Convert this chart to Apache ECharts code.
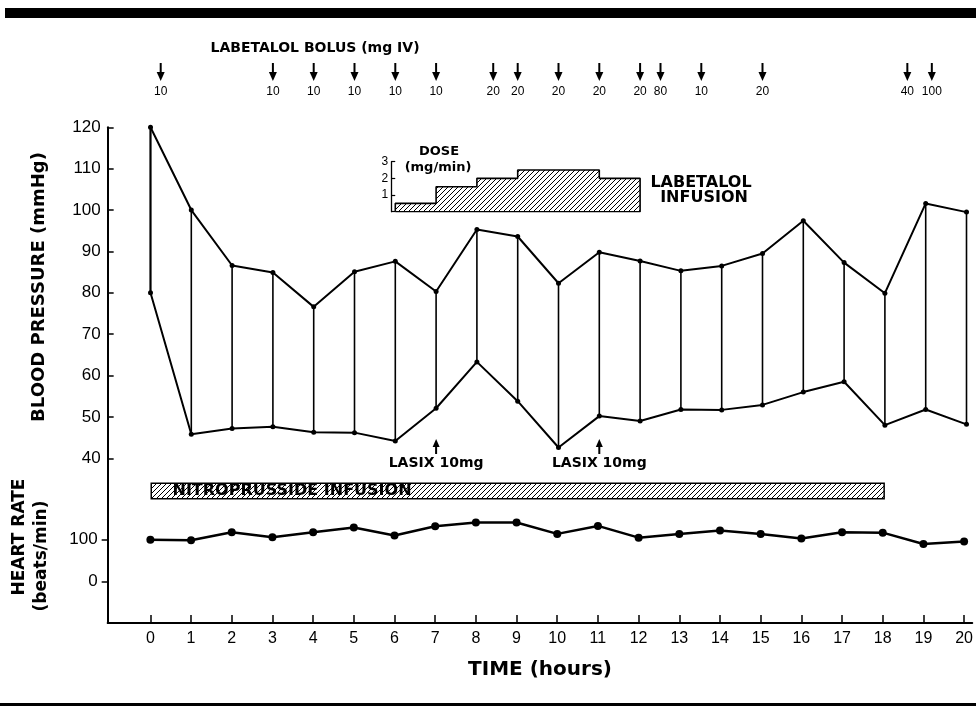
<!DOCTYPE html>
<html>
<head>
<meta charset="utf-8">
<script src="https://cdn.jsdelivr.net/npm/echarts@6/dist/echarts.min.js"></script>
<style>
html,body{margin:0;padding:0;background:#fff;}
#chart{width:976px;height:706px;}
</style>
</head>
<body>
<div id="chart"></div>
<script>
// ---------- DATA ----------
const hours = [0,1,2,3,4,5,6,7,8,9,10,11,12,13,14,15,16,17,18,19,20];
const bpSystolic  = [120,100,86.6,84.9,76.6,85.1,87.6,80.3,95.3,93.6,82.3,89.8,87.7,85.3,86.5,89.5,97.4,87.3,79.9,101.6,99.5];
const bpDiastolic = [80,45.8,47.2,47.6,46.3,46.2,44.2,52.1,63.3,53.8,42.6,50.2,49,51.8,51.7,52.9,56,58.5,48,51.8,48.2];
const heartRate   = [100,99,118,106,118,129,110,132,141,141,114,133,105,114,122,114,103,118,117,90,96];
const bpTicks = [40,50,60,70,80,90,100,110,120];
const hrTicks = [0,100];
const timeTicks = [0,1,2,3,4,5,6,7,8,9,10,11,12,13,14,15,16,17,18,19,20];

const bolusTimes = [0.25,3,4,5,6,7,8.4,9,10,11,12,12.5,13.5,15,18.55,19.15];
const bolusDoses = [10,10,10,10,10,10,20,20,20,20,20,80,10,20,40,100];

const doseTimes  = [6,7,8,9,11,12];
const doseValues = [0.5,1.5,2,2.5,2,2];
const doseTicks  = [0,1,2,3];
const doseLabels = [1,2,3];

const nitroStart = 0, nitroEnd = 18;
const lasixTimes = [7,11];
const lasixText = 'LASIX 10mg';
const nitroText = 'NITROPRUSSIDE INFUSION';

// ---------- helpers ----------
function hatchCanvas(){
  const s=5, c=document.createElement('canvas'); c.width=s; c.height=s;
  const g=c.getContext('2d');
  g.fillStyle='#fff'; g.fillRect(0,0,s,s);
  g.strokeStyle='#000'; g.lineWidth=1;
  g.beginPath();
  g.moveTo(0,s); g.lineTo(s,0);
  g.moveTo(-1,1); g.lineTo(1,-1);
  g.moveTo(s-1,s+1); g.lineTo(s+1,s-1);
  g.stroke();
  return c;
}
const hatch = {image: hatchCanvas(), repeat:'repeat'};

const X0 = 150.5, PX = 40.8;        // layout only
const XMIN = -1.05, XMAX = 20.2;
const gridLeft = X0 + XMIN*PX;
const gridWidth = (XMAX-XMIN)*PX;
const doseXMin = 5.9, doseXMax = 12.2;

const numFont = "'Liberation Sans', Arial, sans-serif";
const boldFont = "'DejaVu Sans', 'Liberation Sans', sans-serif";
const bf = (s)=> "bold " + s + "px 'DejaVu Sans', 'Liberation Sans', sans-serif";

const doseData = [[doseTimes[0],0]].concat(doseTimes.map((t,i)=>[t,doseValues[i]]))
  .concat([[doseTimes[doseTimes.length-1],0],[doseTimes[0],0]]);

const chart = echarts.init(document.getElementById('chart'));
chart.setOption({
  animation:false,
  backgroundColor:'#fff',
  grid:[
    {left:gridLeft, top:127.3, width:gridWidth, height:343.4},   // BP
    {left:gridLeft, top:470, width:gridWidth, height:153},        // HR
    {left:gridLeft, top:482, width:gridWidth, height:18},         // nitroprusside
    {left:X0+doseXMin*PX, top:161.7, width:(doseXMax-doseXMin)*PX, height:50} // dose inset
  ],
  xAxis:[
    {gridIndex:0, type:'value', min:XMIN, max:XMAX, show:false},
    {gridIndex:1, type:'value', min:XMIN, max:XMAX, position:'bottom',
      axisLine:{show:true, onZero:false, lineStyle:{color:'#000', width:2}},
      axisTick:{show:true, inside:true, length:8, lineStyle:{color:'#000', width:1.5}, customValues:timeTicks},
      axisLabel:{show:true, color:'#000', fontFamily:numFont, fontSize:16, margin:8, customValues:timeTicks},
      splitLine:{show:false}},
    {gridIndex:2, type:'value', min:XMIN, max:XMAX, show:false},
    {gridIndex:3, type:'value', min:doseXMin, max:doseXMax, show:false}
  ],
  yAxis:[
    {gridIndex:0, type:'value', min:37, max:120,
      axisLine:{show:true, onZero:false, lineStyle:{color:'#000', width:2}},
      axisTick:{show:true, inside:true, length:6, lineStyle:{color:'#000', width:1.5}, customValues:bpTicks},
      axisLabel:{show:true, color:'#000', fontFamily:numFont, fontSize:17, margin:7, customValues:bpTicks},
      splitLine:{show:false}},
    {gridIndex:1, type:'value', min:-98, max:266,
      axisLine:{show:true, onZero:false, lineStyle:{color:'#000', width:2}},
      axisTick:{show:true, inside:false, length:6, lineStyle:{color:'#000', width:1.5}, customValues:hrTicks},
      axisLabel:{show:true, color:'#000', fontFamily:numFont, fontSize:17, margin:10, customValues:hrTicks},
      splitLine:{show:false}},
    {gridIndex:2, type:'category', data:['n'], show:false},
    {gridIndex:3, type:'value', min:0, max:3,
      axisLine:{show:true, onZero:false, lineStyle:{color:'#000', width:1.3}},
      axisTick:{show:true, inside:true, length:4, lineStyle:{color:'#000', width:1.2}, customValues:doseTicks},
      axisLabel:{show:true, color:'#000', fontFamily:numFont, fontSize:12, margin:3, customValues:doseLabels},
      splitLine:{show:false}}
  ],
  series:[
    // vertical connectors
    {type:'custom', xAxisIndex:0, yAxisIndex:0, silent:true,
      data: hours.map((h,i)=>[h, bpDiastolic[i], bpSystolic[i]]),
      encode:{x:0, y:[1,2]},
      renderItem:function(params, api){
        const a = api.coord([api.value(0), api.value(1)]);
        const b = api.coord([api.value(0), api.value(2)]);
        return {type:'line', shape:{x1:a[0],y1:a[1],x2:b[0],y2:b[1]},
          style:{stroke:'#000', lineWidth: params.dataIndex === 0 ? 2.2 : 1.6}};
      }},
    {type:'line', name:'Systolic', xAxisIndex:0, yAxisIndex:0,
      data: hours.map((h,i)=>[h,bpSystolic[i]]),
      symbol:'circle', symbolSize:5, itemStyle:{color:'#000'}, lineStyle:{color:'#000', width:2}},
    {type:'line', name:'Diastolic', xAxisIndex:0, yAxisIndex:0,
      data: hours.map((h,i)=>[h,bpDiastolic[i]]),
      symbol:'circle', symbolSize:5, itemStyle:{color:'#000'}, lineStyle:{color:'#000', width:2}},
    // heart rate
    {type:'line', name:'Heart rate', xAxisIndex:1, yAxisIndex:1,
      data: hours.map((h,i)=>[h,heartRate[i]]),
      symbol:'circle', symbolSize:8, itemStyle:{color:'#000'}, lineStyle:{color:'#000', width:2.5}},
    // nitroprusside infusion bar
    {type:'bar', xAxisIndex:2, yAxisIndex:2, barWidth:17,
      data:[nitroEnd],
      itemStyle:{color:hatch, borderColor:'#000', borderWidth:1.5},
      label:{show:true, position:'insideLeft', distance:22, formatter:nitroText,
        color:'#000', fontFamily:boldFont, fontWeight:'bold', fontSize:16}},
    // labetalol infusion dose
    {type:'line', xAxisIndex:3, yAxisIndex:3, step:'end', symbol:'none',
      data: doseData,
      lineStyle:{color:'#000', width:1.6},
      areaStyle:{color:hatch, opacity:1}},
    // bolus arrows
    {type:'custom', xAxisIndex:0, yAxisIndex:0, clip:false, silent:true,
      data: bolusTimes.map((t,i)=>[t, bolusDoses[i]]),
      encode:{x:0},
      renderItem:function(params, api){
        const x = api.coord([api.value(0), 100])[0];
        return {type:'group', children:[
          {type:'line', shape:{x1:x,y1:63,x2:x,y2:74}, style:{stroke:'#000', lineWidth:2}},
          {type:'polygon', shape:{points:[[x-4,72],[x+4,72],[x,81]]}, style:{fill:'#000'}},
          {type:'text', style:{text:String(api.value(1)), x:x, y:92, align:'center', verticalAlign:'middle',
            font:"12px 'Liberation Sans Narrow', 'Liberation Sans', sans-serif", fill:'#000'}}
        ]};
      }},
    // lasix arrows
    {type:'custom', xAxisIndex:0, yAxisIndex:0, clip:false, silent:true,
      data: lasixTimes.map(t=>[t, 40]),
      encode:{x:0},
      renderItem:function(params, api){
        const x = api.coord([api.value(0), 40])[0];
        return {type:'group', children:[
          {type:'line', shape:{x1:x,y1:445,x2:x,y2:454}, style:{stroke:'#000', lineWidth:2}},
          {type:'polygon', shape:{points:[[x-3.5,447],[x+3.5,447],[x,439]]}, style:{fill:'#000'}},
          {type:'text', style:{text:lasixText, x:x, y:463.5, align:'center', verticalAlign:'middle',
            font:bf(14), fill:'#000'}}
        ]};
      }}
  ],
  graphic:[
    {type:'rect', shape:{x:5, y:8, width:971, height:10}, style:{fill:'#000'}},
    {type:'rect', shape:{x:0, y:703, width:976, height:4}, style:{fill:'#000'}},
    {type:'text', x:315, y:48, style:{text:'LABETALOL BOLUS (mg IV)', align:'center', verticalAlign:'middle',
      font:bf(14), fill:'#000'}},
    {type:'text', x:439, y:152, style:{text:'DOSE', align:'center', verticalAlign:'middle',
      font:bf(13), fill:'#000'}},
    {type:'text', x:438, y:168, style:{text:'(mg/min)', align:'center', verticalAlign:'middle',
      font:bf(13), fill:'#000'}},
    {type:'text', x:701, y:182.5, style:{text:'LABETALOL', align:'center', verticalAlign:'middle',
      font:bf(16), fill:'#000'}},
    {type:'text', x:704, y:197.5, style:{text:'INFUSION', align:'center', verticalAlign:'middle',
      font:bf(16), fill:'#000'}},
    {type:'text', x:39, y:287, rotation:Math.PI/2, style:{text:'BLOOD PRESSURE (mmHg)', align:'center', verticalAlign:'middle',
      font:bf(18), fill:'#000'}},
    {type:'text', x:20, y:537, rotation:Math.PI/2, style:{text:'HEART RATE', align:'center', verticalAlign:'middle',
      font:bf(17), fill:'#000'}},
    {type:'text', x:42, y:556, rotation:Math.PI/2, style:{text:'(beats/min)', align:'center', verticalAlign:'middle',
      font:bf(17), fill:'#000'}},
    {type:'text', x:540, y:670, style:{text:'TIME (hours)', align:'center', verticalAlign:'middle',
      font:bf(20), fill:'#000'}}
  ]
});
</script>
</body>
</html>
